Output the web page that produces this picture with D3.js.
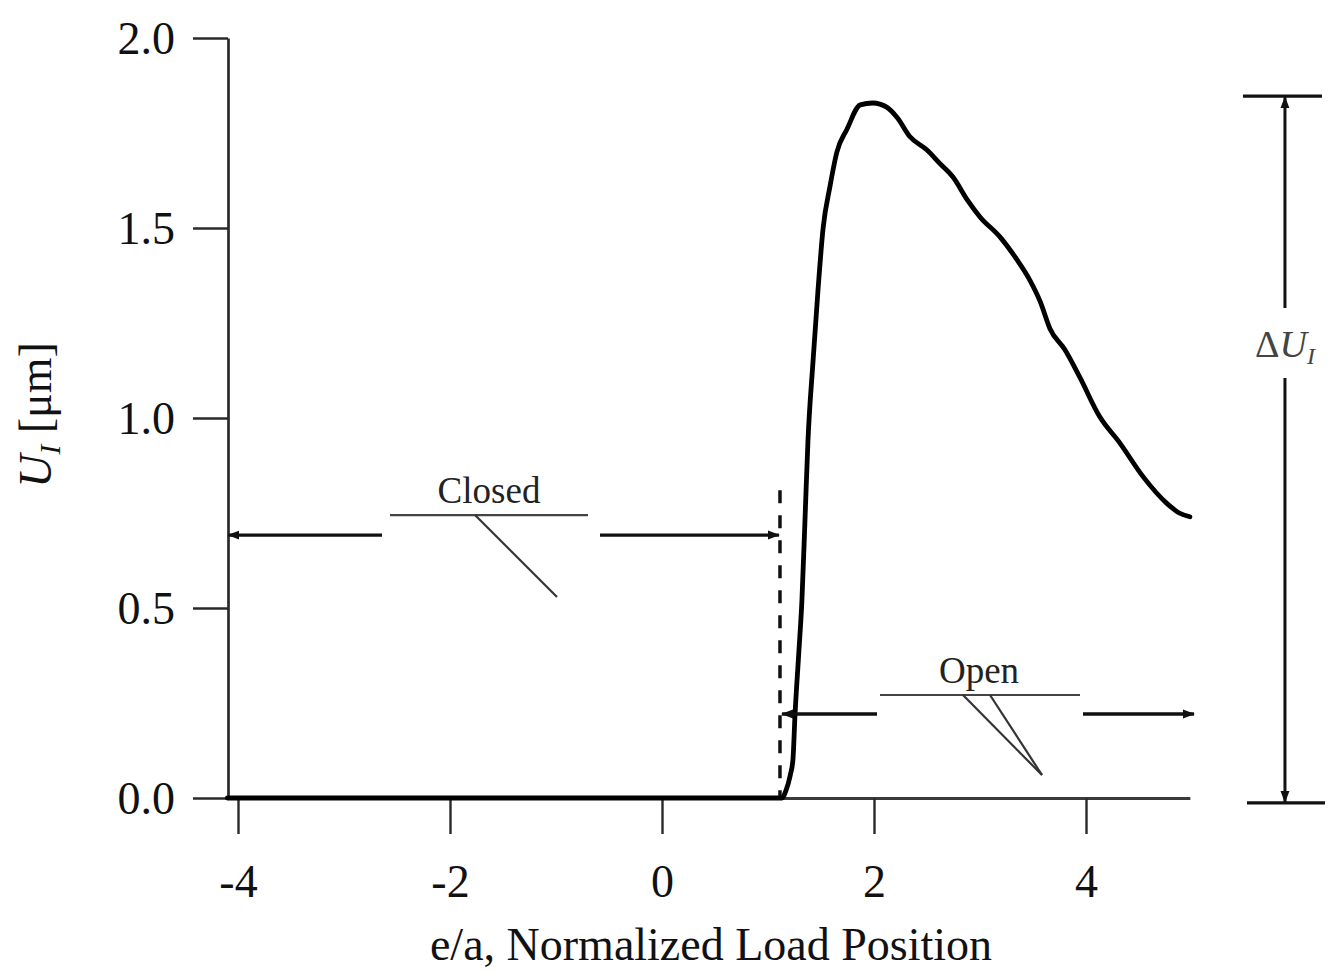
<!DOCTYPE html>
<html>
<head>
<meta charset="utf-8">
<script src="https://cdn.jsdelivr.net/npm/d3@7/dist/d3.min.js"></script>
<style>
  html, body { margin: 0; padding: 0; background: #fff; }
  svg { display: block; font-family: "Liberation Serif", "Times New Roman", serif; }
</style>
</head>
<body>
<svg id="chart" width="1330" height="973"></svg>
<script>
// ---- data ----
const curveX = [-4.1, 1.13, 1.17, 1.21, 1.235, 1.255, 1.29, 1.32, 1.35, 1.377, 1.425, 1.47, 1.52, 1.585, 1.65, 1.745, 1.87, 1.99, 2.12, 2.22, 2.34, 2.50, 2.62, 2.745, 2.88, 3.0, 3.19, 3.35, 3.47, 3.57, 3.66, 3.80, 3.94, 4.13, 4.32, 4.54, 4.76, 4.88, 4.98];
const curveY = [0, 0, 0.02, 0.06, 0.10, 0.22, 0.38, 0.52, 0.74, 0.94, 1.15, 1.33, 1.50, 1.61, 1.70, 1.76, 1.824, 1.829, 1.818, 1.79, 1.74, 1.705, 1.67, 1.634, 1.574, 1.529, 1.476, 1.416, 1.363, 1.305, 1.235, 1.18, 1.108, 1.003, 0.934, 0.845, 0.776, 0.75, 0.74];
const xTicks = [-4, -2, 0, 2, 4];
const yTicks = [0.0, 0.5, 1.0, 1.5, 2.0];
const xDomain = [-4.1, 4.98];
const yDomain = [0, 2.0];
const transitionX = 1.113;   // dashed line position
const transitionTop = 0.81;
const closedArrowY = 0.692;
const openArrowY = 0.221;
const deltaTop = 1.847, deltaBottom = -0.013, deltaX = 5.877;

// ---- layout ----
const svg = d3.select("#chart");
const x = d3.scaleLinear().domain(xDomain).range([662 + 106 * xDomain[0], 662 + 106 * xDomain[1]]);
const y = d3.scaleLinear().domain(yDomain).range([798, 38]);
const axisColor = "#2a2a2a";

// markers
const defs = svg.append("defs");
defs.append("marker").attr("id", "arr").attr("viewBox", "0 -5 12 10")
  .attr("refX", 11).attr("refY", 0).attr("markerWidth", 12).attr("markerHeight", 10)
  .attr("markerUnits", "userSpaceOnUse").attr("orient", "auto")
  .append("path").attr("d", "M0,-4.5L12,0L0,4.5Z").attr("fill", "#111");

// axes
const gx = svg.append("g").attr("transform", `translate(0,${y(0)})`)
  .call(d3.axisBottom(x).tickValues(xTicks).tickSize(36).tickSizeOuter(0).tickFormat(d3.format("d")));
gx.select(".domain").attr("stroke", "#3a3a3a").attr("stroke-width", 3);
gx.selectAll(".tick line").attr("stroke", axisColor).attr("stroke-width", 2.4);
gx.selectAll(".tick text").attr("y", 99).attr("dy", 0).attr("font-size", 46)
  .attr("fill", "#111").attr("font-family", '"Liberation Serif", serif')
  .text(d => d < 0 ? "-" + Math.abs(d) : d);

const gy = svg.append("g").attr("transform", `translate(${x(xDomain[0]) + 0.6},0)`)
  .call(d3.axisLeft(y).tickValues(yTicks).tickSize(35).tickSizeOuter(0).tickPadding(18).tickFormat(d3.format(".1f")));
gy.select(".domain").attr("stroke", axisColor).attr("stroke-width", 2.7);
gy.selectAll(".tick line").attr("stroke", axisColor).attr("stroke-width", 2.4);
gy.selectAll(".tick text").attr("font-size", 46).attr("fill", "#111")
  .attr("font-family", '"Liberation Serif", serif').attr("dy", "0.33em");

// axis titles
svg.append("text").attr("x", 711).attr("y", 960).attr("text-anchor", "middle")
  .attr("font-size", 46).attr("fill", "#111").text("e/a, Normalized Load Position");

const yl = svg.append("text").attr("transform", "translate(51,415) rotate(-90)")
  .attr("text-anchor", "middle").attr("font-size", 46).attr("fill", "#111");
yl.append("tspan").attr("font-style", "italic").text("U");
yl.append("tspan").attr("font-style", "italic").attr("font-size", 29).attr("dy", 9).text("I");
yl.append("tspan").attr("dy", -9).text(" [\u03bcm]");

// dashed transition line
svg.append("line").attr("x1", x(transitionX)).attr("x2", x(transitionX))
  .attr("y1", y(transitionTop)).attr("y2", y(0))
  .attr("stroke", "#111").attr("stroke-width", 3.5).attr("stroke-dasharray", "13,12");

// curve
const pts = curveX.map((v, i) => [v, curveY[i]]);
svg.append("path").datum(pts)
  .attr("d", d3.line().x(d => x(d[0])).y(d => y(d[1])).curve(d3.curveMonotoneX))
  .attr("fill", "none").attr("stroke", "#000").attr("stroke-width", 4.8)
  .attr("stroke-linejoin", "round").attr("stroke-linecap", "round");

// ---- Closed annotation ----
const cy = y(closedArrowY);
svg.append("line").attr("x1", 382).attr("x2", x(xDomain[0]) + 1).attr("y1", cy).attr("y2", cy)
  .attr("stroke", "#111").attr("stroke-width", 3.3).attr("marker-end", "url(#arr)");
svg.append("line").attr("x1", 600).attr("x2", x(transitionX) - 1).attr("y1", cy).attr("y2", cy)
  .attr("stroke", "#111").attr("stroke-width", 3.3).attr("marker-end", "url(#arr)");
svg.append("line").attr("x1", 390).attr("x2", 588).attr("y1", cy - 20).attr("y2", cy - 20)
  .attr("stroke", "#444").attr("stroke-width", 2.2);
svg.append("line").attr("x1", 475).attr("x2", 557).attr("y1", cy - 20).attr("y2", cy + 62)
  .attr("stroke", "#333").attr("stroke-width", 2.2);
svg.append("text").attr("x", 489).attr("y", cy - 32).attr("text-anchor", "middle")
  .attr("font-size", 37).attr("fill", "#222").text("Closed");

// ---- Open annotation ----
const oy = y(openArrowY);
svg.append("line").attr("x1", 877).attr("x2", x(transitionX) + 2).attr("y1", oy).attr("y2", oy)
  .attr("stroke", "#111").attr("stroke-width", 3.3).attr("marker-end", "url(#arr)");
svg.append("line").attr("x1", 1083).attr("x2", 1194).attr("y1", oy).attr("y2", oy)
  .attr("stroke", "#111").attr("stroke-width", 3.3).attr("marker-end", "url(#arr)");
svg.append("line").attr("x1", 880).attr("x2", 1080).attr("y1", oy - 19).attr("y2", oy - 19)
  .attr("stroke", "#444").attr("stroke-width", 2.2);
svg.append("line").attr("x1", 963).attr("x2", 1042).attr("y1", oy - 19).attr("y2", oy + 61)
  .attr("stroke", "#333").attr("stroke-width", 2.2);
svg.append("line").attr("x1", 990).attr("x2", 1042).attr("y1", oy - 19).attr("y2", oy + 61)
  .attr("stroke", "#333").attr("stroke-width", 2.2);
svg.append("text").attr("x", 979).attr("y", oy - 31).attr("text-anchor", "middle")
  .attr("font-size", 37).attr("fill", "#222").text("Open");

// ---- Delta U bracket ----
const dx = x(deltaX);
svg.append("line").attr("x1", dx - 42).attr("x2", dx + 37).attr("y1", y(deltaTop)).attr("y2", y(deltaTop))
  .attr("stroke", "#111").attr("stroke-width", 3.3);
svg.append("line").attr("x1", dx - 38).attr("x2", dx + 40).attr("y1", y(deltaBottom)).attr("y2", y(deltaBottom))
  .attr("stroke", "#111").attr("stroke-width", 3.3);
svg.append("line").attr("x1", dx).attr("x2", dx).attr("y1", 308).attr("y2", y(deltaTop) + 1)
  .attr("stroke", "#111").attr("stroke-width", 3).attr("marker-end", "url(#arr)");
svg.append("line").attr("x1", dx).attr("x2", dx).attr("y1", 378).attr("y2", y(deltaBottom) - 1)
  .attr("stroke", "#111").attr("stroke-width", 3).attr("marker-end", "url(#arr)");
const dl = svg.append("text").attr("x", dx).attr("y", 357).attr("text-anchor", "middle")
  .attr("font-size", 38).attr("fill", "#444");
dl.append("tspan").text("\u0394");
dl.append("tspan").attr("font-style", "italic").text("U");
dl.append("tspan").attr("font-style", "italic").attr("font-size", 24).attr("dy", 7).text("I");
</script>
</body>
</html>
